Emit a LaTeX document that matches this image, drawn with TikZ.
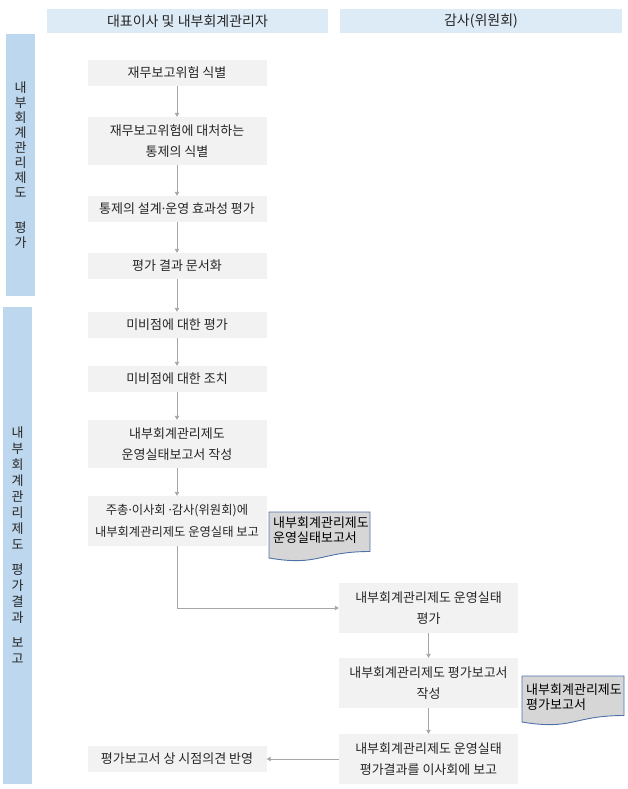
\documentclass[tikz,border=0pt]{standalone}
\usepackage{fontspec}
\setmainfont{Noto Sans CJK KR}
\newfontfamily\latinfont{Noto Sans}
\usepackage{tikz}
\usetikzlibrary{arrows.meta}
\usetikzlibrary{positioning}

\definecolor{hdrblue}{RGB}{221,235,247}
\definecolor{barblue}{RGB}{189,215,238}
\definecolor{boxgray}{RGB}{242,242,242}
\definecolor{docgray}{RGB}{214,214,214}
\definecolor{docline}{RGB}{79,113,170}
\definecolor{arrgray}{RGB}{166,166,166}
\definecolor{txtgray}{RGB}{38,38,38}

\tikzset{
  hdr/.style={fill=hdrblue, minimum height=24pt, inner sep=0pt, font=\fontsize{14}{15}\selectfont, text=txtgray},
  sidebar/.style={fill=barblue, minimum width=29pt, inner sep=0pt, align=center, font=\fontsize{13}{15}\selectfont, text=txtgray},
  stepbox/.style={fill=boxgray, minimum width=179pt, inner sep=0pt, align=center, font=\fontsize{13}{21.5}\selectfont, text=txtgray},
  doctext/.style={anchor=north west, inner sep=0pt, align=left, font=\fontsize{13}{14.5}\selectfont, text=black},
  docshape/.style={draw=docline, fill=docgray, line width=0.9pt},
  flow/.style={draw=arrgray, line width=0.9pt, -{Triangle[width=4.5pt,length=4pt]}},
}

\begin{document}
\begin{tikzpicture}[x=1pt,y=-1pt]
\useasboundingbox (0,0) rectangle (628,789);
%%% HEADERS AND SIDE BARS %%%
\node[hdr, minimum width=281pt] (hd1) at (187.5,21) {대표이사 및 내부회계관리자};
\node[hdr, minimum width=282pt] (hd2) at (481,21) {감사(위원회)};
\node[sidebar, minimum height=262pt] (bar1) at (20.5,165) {내\\부\\회\\계\\관\\리\\제\\도\\[20pt]평\\가};
\node[sidebar, minimum height=477pt, font=\fontsize{13}{16}\selectfont] (bar2) at (17.5,545.5) {내\\부\\회\\계\\관\\리\\제\\도\\[9pt]평\\가\\결\\과\\[9pt]보\\고};
%%% LEFT COLUMN %%%
\node[stepbox, minimum height=26pt] (s1) at (177,73) {재무보고위험 식별};
\node[stepbox, minimum height=48pt] (s2) at (177,141) {재무보고위험에 대처하는\\통제의 식별};
\node[stepbox, minimum height=26pt] (s3) at (177,209) {통제의 설계{\latinfont ·}운영 효과성 평가};
\node[stepbox, minimum height=26pt] (s4) at (177,266) {평가 결과 문서화};
\node[stepbox, minimum height=26pt] (s5) at (177,325) {미비점에 대한 평가};
\node[stepbox, minimum height=26pt] (s6) at (177,379) {미비점에 대한 조치};
\node[stepbox, minimum height=48pt] (s7) at (177,444) {내부회계관리제도\\운영실태보고서 작성};
\node[stepbox, minimum height=50pt, font=\fontsize{12.3}{22.5}\selectfont] (s8) at (177,521) {주총{\latinfont ·}이사회 {\latinfont ·}감사(위원회)에\\내부회계관리제도 운영실태 보고};
\node[stepbox, minimum height=26pt] (s9) at (177,759) {평가보고서 상 시점의견 반영};
%%% RIGHT COLUMN %%%
\node[stepbox, minimum height=50pt] (a1) at (428.5,608) {내부회계관리제도 운영실태\\평가};
\node[stepbox, minimum height=50pt] (a2) at (428.5,683) {내부회계관리제도 평가보고서\\작성};
\node[stepbox, minimum height=50pt] (a3) at (428.5,759) {내부회계관리제도 운영실태\\평가결과를 이사회에 보고};
%%% DOCUMENTS %%%
\draw[docshape] (269,512) -- (370,512) -- (370,551.5) .. controls (319.5,551.5) and (319.5,566.6) .. (269,558) -- cycle;
\node[doctext] (doc1) at (273,517) {내부회계관리제도\\운영실태보고서};
\draw[docshape] (522,676) -- (624,676) -- (624,715.5) .. controls (573,715.5) and (573,730.6) .. (522,722) -- cycle;
\node[doctext] (doc2) at (526,684) {내부회계관리제도\\평가보고서};
%%% ARROWS %%%
\foreach \a/\b in {s1/s2,s2/s3,s3/s4,s4/s5,s5/s6,s6/s7,s7/s8,a1/a2,a2/a3}
  \draw[flow] (\a.south) -- (\b.north);
\draw[flow] (s8.south) |- (a1.west);
\draw[flow] (a3.west) -- (s9.east);
\end{tikzpicture}
\end{document}
